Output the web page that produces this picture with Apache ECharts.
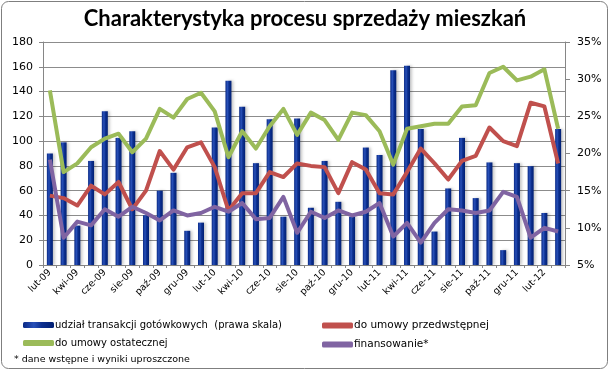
<!DOCTYPE html>
<html>
<head>
<meta charset="utf-8">
<script src="https://cdn.jsdelivr.net/npm/echarts@6/dist/echarts.min.js"></script>
<style>
html,body{margin:0;padding:0;background:#fff;}
#c{width:610px;height:371px;}
</style>
</head>
<body>
<div id="c"></div>
<script>
var categories = ['lut-09','mar-09','kwi-09','maj-09','cze-09','lip-09','sie-09','wrz-09','paź-09','lis-09','gru-09',
  'sty-10','lut-10','mar-10','kwi-10','maj-10','cze-10','lip-10','sie-10','wrz-10','paź-10','lis-10','gru-10',
  'sty-11','lut-11','mar-11','kwi-11','maj-11','cze-11','lip-11','sie-11','wrz-11','paź-11','lis-11','gru-11',
  'sty-12','lut-12','mar-12'];
// udział transakcji gotówkowych (%), right scale
var cashShare = [20.0,21.5,10.3,19.0,25.7,22.1,23.0,11.7,15.0,17.4,9.6,
  10.7,23.5,29.8,26.3,18.7,24.6,11.5,24.7,12.7,19.0,13.5,11.5,
  20.8,19.8,31.2,31.8,23.3,9.5,15.3,22.1,14.0,18.8,7.0,18.7,
  18.3,12.0,23.3];
// do umowy przedwstępnej (left scale)
var preliminary = [56,54,48,64,57,67,45,60,92,77,95,
  99,79,44,58,58,75,71,82,80,79,58,83,
  77,58,57,75,94,82,69,84,88,111,100,96,
  131,128,82];
// do umowy ostatecznej (left scale)
var finalContract = [141,75,82,95,102,106,91,102,126,119,134,
  139,124,87,108,94,112,126,105,123,117,101,123,
  121,108,81,110,112,114,114,128,129,155,160,149,
  152,158,110];
// finansowanie* (left scale)
var financing = [85,22,35,32,45,39,47,42,36,44,40,
  42,47,43,50,37,38,55,26,43,38,44,40,
  43,50,23,34,18,34,45,44,42,44,59,55,
  22,30,27];
var leftTicks = {min:0, max:180, interval:20};
var rightTicks = {min:5, max:35, interval:5};

var nameBar = 'udział transakcji gotówkowych  (prawa skala)';
var nameRed = 'do umowy przedwstępnej';
var nameGreen = 'do umowy ostatecznej';
var nameViolet = 'finansowanie*';

var FONT = 'DejaVu Sans';
var chart = echarts.init(document.getElementById('c'), null, {renderer:'canvas'});
var barGrad = new echarts.graphic.LinearGradient(0,0,1,0,[
  {offset:0,color:'#0a2a86'},{offset:0.35,color:'#2850b8'},{offset:0.6,color:'#0d3090'},{offset:1,color:'#001f73'}]);

chart.setOption({
  animation:false,
  backgroundColor:'#fff',
  title:{text:'Charakterystyka procesu sprzedaży mieszkań', left:'center', top:3,
    textStyle:{fontFamily:'Lato', fontWeight:'bold', fontSize:22, color:'#000'}},
  grid:{left:43, right:45, top:42, bottom:106, containLabel:false},
  legend:[
    {left:18, top:315, orient:'vertical', itemGap:8, itemWidth:31, itemHeight:6, icon:'roundRect',
     data:[nameBar, nameGreen],
     textStyle:{fontFamily:FONT, fontSize:10, color:'#000', padding:[0,0,0,-4]}},
    {left:317, top:315, orient:'vertical', itemGap:8, itemWidth:31, itemHeight:6, icon:'roundRect',
     data:[nameRed, nameViolet],
     textStyle:{fontFamily:FONT, fontSize:10.5, color:'#000', padding:[0,0,0,-4]}}
  ],
  xAxis:{type:'category', data:categories, boundaryGap:true,
    axisLine:{lineStyle:{color:'#868686'}},
    axisTick:{show:true, interval:0, length:3, lineStyle:{color:'#868686'}},
    axisLabel:{interval:1, rotate:45, fontFamily:FONT, fontSize:9.5, color:'#000', margin:6}},
  yAxis:[
    {type:'value', min:leftTicks.min, max:leftTicks.max, interval:leftTicks.interval, position:'left',
     axisLine:{show:true, lineStyle:{color:'#868686'}},
     axisTick:{show:true, length:4, lineStyle:{color:'#868686'}},
     splitLine:{show:true, lineStyle:{color:'#8c8c8c', width:1}},
     axisLabel:{fontFamily:FONT, fontSize:11, color:'#000', margin:10}},
    {type:'value', min:rightTicks.min, max:rightTicks.max, interval:rightTicks.interval, position:'right',
     axisLine:{show:true, lineStyle:{color:'#868686'}},
     axisTick:{show:true, length:5, lineStyle:{color:'#868686'}},
     splitLine:{show:false},
     axisLabel:{fontFamily:FONT, fontSize:11, color:'#000', margin:12, formatter:'{value}%'}}
  ],
  series:[
    {name:nameBar, type:'bar', yAxisIndex:1, data:cashShare, barWidth:6, clip:true,
     itemStyle:{color:barGrad, shadowColor:'rgba(0,0,0,0.22)', shadowBlur:3, shadowOffsetX:2}},
    {name:nameRed, type:'line', yAxisIndex:0, data:preliminary, symbol:'none', z:3,
     lineStyle:{color:'#c0504d', width:4, join:'round'}, itemStyle:{color:'#c0504d'}},
    {name:nameGreen, type:'line', yAxisIndex:0, data:finalContract, symbol:'none', z:3,
     lineStyle:{color:'#9bbb59', width:4, join:'round'}, itemStyle:{color:'#9bbb59'}},
    {name:nameViolet, type:'line', yAxisIndex:0, data:financing, symbol:'none', z:3,
     lineStyle:{color:'#8064a2', width:4, join:'round'}, itemStyle:{color:'#8064a2'}}
  ],
  graphic:[
    {type:'rect', shape:{x:1.5, y:1.5, width:606, height:367, r:7}, z:-1,
     style:{fill:'none', stroke:'#7f7f7f', lineWidth:1}},
    {type:'text', left:14, top:355, style:{text:'* dane wstępne i wyniki uproszczone',
     font:'9.5px "DejaVu Sans"', fill:'#000'}}
  ]
});
</script>
</body>
</html>
